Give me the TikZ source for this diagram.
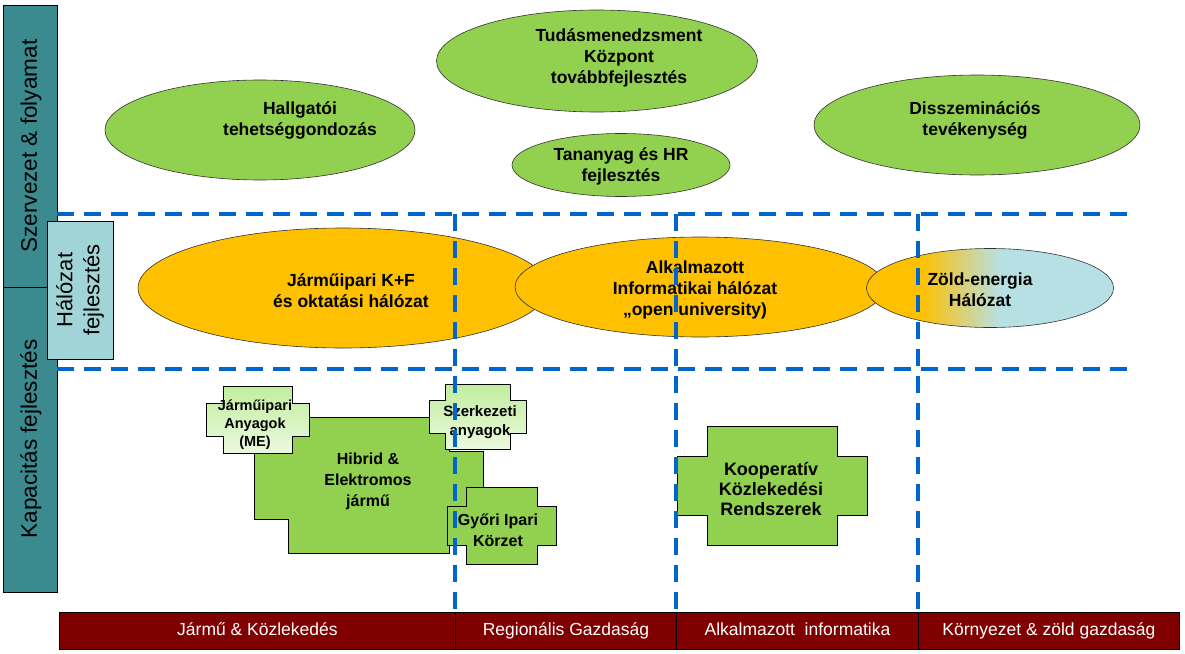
\documentclass[tikz,border=0pt]{standalone}
\usepackage{fontspec}
\setmainfont{Liberation Sans}
\usetikzlibrary{shapes.geometric}
\definecolor{pgreen}{HTML}{92D050}
\definecolor{porange}{HTML}{FFC000}
\definecolor{plblue}{HTML}{B7E0E4}
\definecolor{pteal}{HTML}{3B8A8F}
\definecolor{plteal}{HTML}{A0D4D6}
\definecolor{pmaroon}{HTML}{800000}
\definecolor{pdash}{HTML}{0066CC}
\definecolor{plgtop}{HTML}{C2ED9E}
\definecolor{plgbot}{HTML}{EAF9DE}
\pgfdeclarehorizontalshading{zoldshade}{100bp}{color(0bp)=(porange); color(36bp)=(porange); color(52bp)=(plblue); color(100bp)=(plblue)}
\newcommand{\plusp}[5]{(#1+#5,#2) -- (#3-#5,#2) -- (#3-#5,#2+#5) -- (#3,#2+#5) -- (#3,#4-#5) -- (#3-#5,#4-#5) -- (#3-#5,#4) -- (#1+#5,#4) -- (#1+#5,#4-#5) -- (#1,#4-#5) -- (#1,#2+#5) -- (#1+#5,#2+#5) -- cycle}
\tikzset{
  ell/.style={ellipse, draw=black!80, line width=0.6pt, inner sep=0pt},
  gell/.style={ell, fill=pgreen},
  oell/.style={ell, fill=porange},
  etext/.style={font=\fontsize{17.5}{21}\selectfont\bfseries, align=center, inner sep=0pt},
  mtext/.style={font=\fontsize{16}{21}\selectfont\bfseries, align=center, inner sep=0pt},
  stext/.style={font=\fontsize{14.5}{18}\selectfont\bfseries, align=center, inner sep=0pt},
  darkplus/.style={draw=black, line width=0.7pt, fill=pgreen},
  lightplus/.style={draw=black, line width=0.7pt, top color=plgtop, bottom color=plgbot},
  blue dash/.style={draw=pdash, line width=3.5pt, dash pattern=on 17pt off 10pt},
  sidetext/.style={font=\fontsize{22.5}{27}\selectfont, align=center, rotate=90, inner sep=0pt},
  barseg/.style={draw=black, line width=0.9pt, fill=pmaroon, text=white, font=\fontsize{17.5}{20}\selectfont, text height=12.5pt, text depth=3.5pt, inner sep=0pt, anchor=north west},
}
\begin{document}
\begin{tikzpicture}[x=1pt,y=-1pt]
\useasboundingbox (0,0) rectangle (1185,653);
% left panel
\node[draw=black, line width=0.8pt, fill=pteal, minimum width=54pt, minimum height=282pt, anchor=north west, inner sep=0pt] (pan1) at (3,5) {};
\node[draw=black, line width=0.8pt, fill=pteal, minimum width=54pt, minimum height=305pt, anchor=north west, inner sep=0pt] (pan2) at (3,287) {};
\node[sidetext] (t1) at (31,146) {Szervezet \& folyamat};
\node[sidetext] (t2) at (31,439) {Kapacitás fejlesztés};
\node[draw=black, line width=0.8pt, fill=plteal, minimum width=66pt, minimum height=138pt, anchor=north west, inner sep=0pt] (hal) at (47,221) {};
\node[sidetext, font=\fontsize{22}{27}\selectfont] (halt) at (80,290) {Hálózat\\fejlesztés};
% top ellipses
\node[gell, minimum width=310pt, minimum height=100pt] (hallg) at (260,130) {};
\node[etext] (hallgt) at (300,120) {Hallgatói\\tehetséggondozás};
\node[gell, minimum width=321pt, minimum height=102pt] (tud) at (597,61) {};
\node[etext] (tudt) at (619,58) {Tudásmenedzsment\\Központ\\továbbfejlesztés};
\node[gell, minimum width=326pt, minimum height=100pt] (dissz) at (977,125) {};
\node[etext] (disszt) at (975,120) {Disszeminációs\\tevékenység};
\node[gell, minimum width=218pt, minimum height=63pt] (tan) at (621,165) {};
\node[etext] (tant) at (621,166) {Tananyag és HR\\fejlesztés};
% network ellipses
\node[oell, minimum width=410pt, minimum height=120pt] (kf) at (343,288) {};
\node[etext] (kft) at (351,291) {Járműipari K+F\\és oktatási hálózat};
\node[oell, minimum width=370pt, minimum height=100pt] (alk) at (700,287) {};
\node[etext] (alkt) at (695,290) {Alkalmazott\\Informatikai hálózat\\„open university)};
\node[ell, shading=zoldshade, minimum width=247pt, minimum height=79pt] (zold) at (990,288) {};
\node[etext] (zoldt) at (980,290) {Zöld-energia\\Hálózat};
% cross shapes
\draw[darkplus] \plusp{254}{417}{483}{553}{34};
\node[mtext] (hib) at (368,481) {Hibrid \&\\Elektromos\\jármű};
\draw[lightplus] \plusp{206}{386}{309}{453}{17};
\node[stext] (jarm) at (255,425) {Járműipari\\Anyagok\\(ME)};
\draw[lightplus] \plusp{429}{384}{526}{449}{16};
\node[stext, font=\fontsize{15}{19}\selectfont\bfseries] (szerk) at (480,422) {Szerkezeti\\anyagok};
\draw[darkplus] \plusp{447}{487}{556}{564}{19};
\node[mtext] (gyori) at (498,530) {Győri Ipari\\Körzet};
\draw[darkplus] \plusp{677}{426}{867}{545}{30};
\node[etext, font=\fontsize{18}{20}\selectfont\bfseries] (koop) at (771,489) {Kooperatív\\Közlekedési\\Rendszerek};
% dashed lines
\coordinate (h1a) at (57,214); \coordinate (h1b) at (1128,214);
\coordinate (h2a) at (57,369); \coordinate (h2b) at (1128,369);
\coordinate (v1a) at (455,214); \coordinate (v1b) at (455,612);
\coordinate (v2a) at (676,214); \coordinate (v2b) at (676,612);
\coordinate (v3a) at (918,214); \coordinate (v3b) at (918,612);
\draw[blue dash] (h1a) -- (h1b);
\draw[blue dash] (h2a) -- (h2b);
\draw[blue dash] (v1a) -- (v1b);
\draw[blue dash] (v2a) -- (v2b);
\draw[blue dash] (v3a) -- (v3b);
% bottom bar
\node[barseg, minimum width=396pt, minimum height=37pt] (b1) at (59,612) {Jármű \& Közlekedés};
\node[barseg, minimum width=221pt, minimum height=37pt] (b2) at (455,612) {Regionális Gazdaság};
\node[barseg, minimum width=242pt, minimum height=37pt] (b3) at (676,612) {Alkalmazott\ \ informatika};
\node[barseg, minimum width=261pt, minimum height=37pt] (b4) at (918,612) {Környezet \& zöld gazdaság};
\end{tikzpicture}
\end{document}
